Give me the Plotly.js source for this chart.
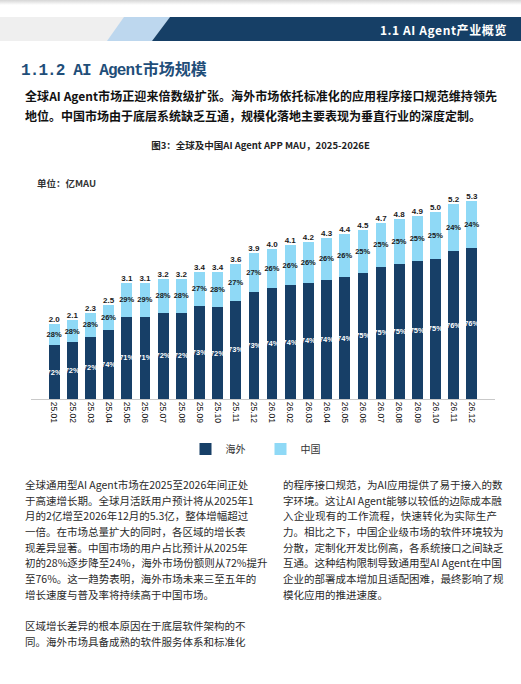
<!DOCTYPE html>
<html>
<head>
<meta charset="utf-8">
<script src="https://cdn.plot.ly/plotly-3.0.1.min.js"></script>
<style>
  html, body { margin:0; padding:0; background:#fff; }
  body { width:521px; height:684px; overflow:hidden; position:relative; font-family:"Noto Sans CJK SC", sans-serif; }
  #chart { position:absolute; left:0; top:0; width:521px; height:684px; z-index:1; }
  .abs { position:absolute; z-index:2; white-space:nowrap; }
  .hdr { right:14px; top:21px; color:#fff; font-size:12px; font-weight:bold; line-height:18px; letter-spacing:0.6px; }
  .h2 { left:21px; top:57px; color:#1f4e79; font-size:16px; font-weight:bold; line-height:22px; }
  .h2 .a { font-family:"Liberation Mono", monospace; letter-spacing:-0.9px; }
  .lead { left:25px; top:86px; width:472px; font-size:12px; font-weight:bold; line-height:19.5px; color:#111; }
  .lead div, .col div { text-align:justify; text-align-last:justify; }
  .lead div.last, .col div.last { text-align-last:left; }
  .col { top:477px; font-size:10.5px; line-height:15.65px; color:#2a2a2a; }
  .col.left { left:25px; width:215px; }
  .col.right { left:283px; width:214px; }
</style>
</head>
<body>
<svg class="abs" style="left:0;top:0" width="521" height="45">
  <defs>
    <linearGradient id="sh" x1="0" y1="0" x2="0" y2="1">
      <stop offset="0" stop-color="#d6d6d6"/>
      <stop offset="1" stop-color="#ffffff"/>
    </linearGradient>
  </defs>
  <rect x="0" y="0" width="521" height="5" fill="url(#sh)"/>
  <rect x="0" y="17" width="521" height="24" fill="#efefef"/>
  <polygon points="107,41 124,17 170,17 152,41" fill="#bdd7ee"/>
  <polygon points="152,41 170,17 521,17 521,41" fill="#163f66"/>
</svg>
<div class="abs hdr">1.1 AI Agent产业概览</div>
<div class="abs h2"><span class="a">1.1.2 AI Agent</span>市场规模</div>
<div class="abs lead">
  <div>全球AI Agent市场正迎来倍数级扩张。海外市场依托标准化的应用程序接口规范维持领先</div>
  <div class="last">地位。中国市场由于底层系统缺乏互通，规模化落地主要表现为垂直行业的深度定制。</div>
</div>

<div class="abs col left">
  <div>全球通用型AI Agent市场在2025至2026年间正处</div>
  <div>于高速增长期。全球月活跃用户预计将从2025年1</div>
  <div>月的2亿增至2026年12月的5.3亿，整体增幅超过</div>
  <div>一倍。在市场总量扩大的同时，各区域的增长表</div>
  <div>现差异显著。中国市场的用户占比预计从2025年</div>
  <div>初的28%逐步降至24%，海外市场份额则从72%提升</div>
  <div>至76%。这一趋势表明，海外市场未来三至五年的</div>
  <div class="last">增长速度与普及率将持续高于中国市场。</div>
  <div class="last">&nbsp;</div>
  <div>区域增长差异的根本原因在于底层软件架构的不</div>
  <div>同。海外市场具备成熟的软件服务体系和标准化</div>
</div>

<div class="abs col right">
  <div>的程序接口规范，为AI应用提供了易于接入的数</div>
  <div>字环境。这让AI Agent能够以较低的边际成本融</div>
  <div>入企业现有的工作流程，快速转化为实际生产</div>
  <div>力。相比之下，中国企业级市场的软件环境较为</div>
  <div>分散，定制化开发比例高，各系统接口之间缺乏</div>
  <div>互通。这种结构限制导致通用型AI Agent在中国</div>
  <div>企业的部署成本增加且适配困难，最终影响了规</div>
  <div class="last">模化应用的推进速度。</div>
</div>

<div id="chart"></div>

<script>
// ---- data ----
const months = ['25.01','25.02','25.03','25.04','25.05','25.06','25.07','25.08','25.09','25.10','25.11','25.12',
                '26.01','26.02','26.03','26.04','26.05','26.06','26.07','26.08','26.09','26.10','26.11','26.12'];
const totalMAU = [2.0,2.1,2.3,2.5,3.1,3.1,3.2,3.2,3.4,3.4,3.6,3.9,
                  4.0,4.1,4.2,4.3,4.4,4.5,4.7,4.8,4.9,5.0,5.2,5.3];
const overseasShare = [72,72,72,74,71,71,72,72,73,72,73,73,
                       74,74,74,74,74,75,75,75,75,75,76,76];
const chinaShare = [28,28,28,26,29,29,28,28,27,28,27,27,
                    26,26,26,26,26,25,25,25,25,25,24,24];
const seriesNames = ['海外','中国'];

// ---- derived segment values ----
const overseasVal = totalMAU.map((t,i) => t*overseasShare[i]/100);
const chinaVal = totalMAU.map((t,i) => t*chinaShare[i]/100);

const navy = '#173f67';
const light = '#8fd9f6';
const pctFont = {family:'Liberation Sans Narrow, Liberation Sans, Arial, sans-serif', size:7.5, weight:'bold'};

const traces = [
  {
    type:'bar', name:seriesNames[0], x:months, y:overseasVal,
    marker:{color:navy, line:{width:0}},
    text:overseasShare.map(v => v+'%'), textposition:'inside', insidetextanchor:'middle',
    textangle:0, constraintext:'none',
    textfont:Object.assign({color:'#ffffff'}, pctFont),
    hoverinfo:'skip'
  },
  {
    type:'bar', name:seriesNames[1], x:months, y:chinaVal,
    marker:{color:light, line:{width:0}},
    text:chinaShare.map(v => v+'%'), textposition:'inside', insidetextanchor:'middle',
    textangle:0, constraintext:'none',
    textfont:Object.assign({color:'#1a1a1a'}, pctFont),
    hoverinfo:'skip'
  },
  {
    type:'scatter', mode:'text', x:months, y:totalMAU, showlegend:false,
    text:totalMAU.map(v => v.toFixed(1)), textposition:'top center', cliponaxis:false,
    textfont:{family:'Liberation Sans, Arial, sans-serif', size:8, color:'#1a1a1a', weight:'bold'},
    hoverinfo:'skip'
  }
];

const H = 684;
const layout = {
  width:521, height:684,
  margin:{l:31, r:26, t:180, b:285, pad:0},
  paper_bgcolor:'rgba(0,0,0,0)', plot_bgcolor:'rgba(0,0,0,0)',
  barmode:'stack', bargap:0.41,
  font:{family:'Noto Sans CJK SC, sans-serif'},
  showlegend:true,
  legend:{orientation:'h', xref:'container', yref:'container', x:0.5, xanchor:'center',
          y:1-449/H, yanchor:'middle', entrywidth:30, traceorder:'normal',
          font:{size:10, color:'#333', family:'Noto Sans CJK SC, sans-serif'}, itemclick:false},
  xaxis:{type:'category', tickangle:90, showline:true, linecolor:'#c9c9c9', linewidth:1,
         ticks:'', showgrid:false, zeroline:false, fixedrange:true,
         tickfont:{size:8.5, color:'#111', family:'Liberation Sans, Arial, sans-serif'}},
  yaxis:{range:[0, 5.848], visible:false, showgrid:false, zeroline:false, fixedrange:true},
  title:{text:'<b>图3：全球及中国AI Agent APP MAU，2025-2026E</b>', xref:'container', yref:'container',
         x:0.5, xanchor:'center', y:1-146/H, yanchor:'middle',
         font:{size:9.5, color:'#222', family:'Noto Sans CJK SC, sans-serif'}},
  annotations:[{text:'<b>单位：亿MAU</b>', xref:'paper', yref:'paper', x:(35-31)/464, y:(399-183)/219,
                xanchor:'left', yanchor:'middle', showarrow:false,
                font:{size:9.5, color:'#333', family:'Noto Sans CJK SC, sans-serif'}}]
};

Plotly.newPlot('chart', traces, layout, {displayModeBar:false, staticPlot:true});
</script>
</body>
</html>
